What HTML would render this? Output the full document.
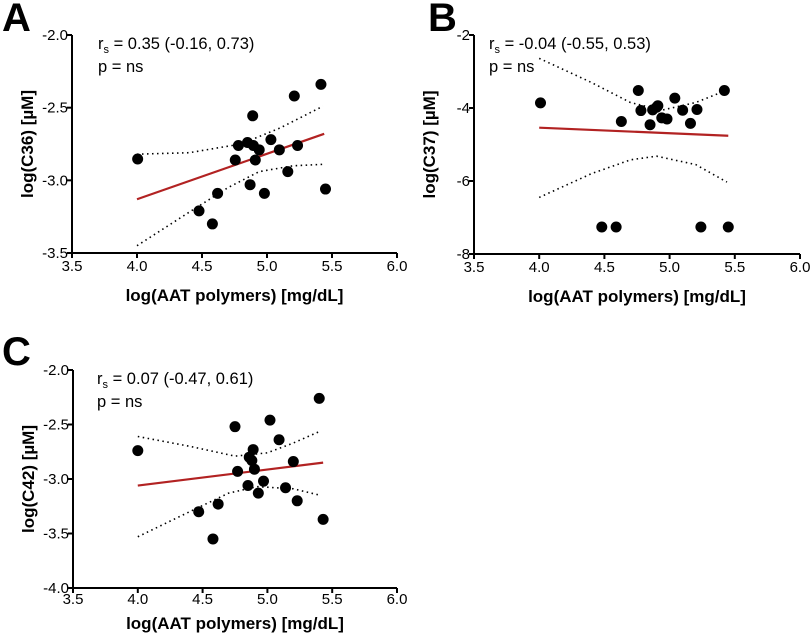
<!DOCTYPE html>
<html><head><meta charset="utf-8"><style>
html,body{margin:0;padding:0;background:#fff;}
svg{display:block;font-family:"Liberation Sans",Arial,sans-serif;}
</style></head><body>
<svg id="fig" width="810" height="633" viewBox="0 0 810 633" xmlns="http://www.w3.org/2000/svg">
<text x="2" y="31" font-size="40" font-weight="bold">A</text>
<text x="428" y="31" font-size="40" font-weight="bold">B</text>
<text x="2" y="365" font-size="40" font-weight="bold">C</text>
</svg>
<script>
const xTicks=[3.5,4.0,4.5,5.0,5.5,6.0];
const xTickLabels=["3.5","4.0","4.5","5.0","5.5","6.0"];

const aX=[4.005,4.477,4.58,4.62,4.756,4.78,4.85,4.89,4.87,4.895,4.91,4.94,4.98,5.03,5.095,5.16,5.21,5.235,5.415,5.45];
const aY=[-2.853,-3.21,-3.30,-3.09,-2.86,-2.76,-2.74,-2.556,-3.03,-2.76,-2.86,-2.79,-3.09,-2.72,-2.79,-2.94,-2.42,-2.76,-2.34,-3.06];
const aFitX=[4.0,5.44];const aFitY=[-3.13,-2.68];
const aUpX=[4.0,4.4,4.8,5.1,5.43];const aUpY=[-2.82,-2.81,-2.75,-2.64,-2.49];
const aLoX=[4.0,4.4,4.7,4.94,5.2,5.43];const aLoY=[-3.45,-3.22,-3.05,-2.94,-2.9,-2.89];
const aYTicks=[-2.0,-2.5,-3.0,-3.5];const aYTickLabels=["-2.0","-2.5","-3.0","-3.5"];

const bX=[4.01,4.48,4.59,4.63,4.76,4.78,4.85,4.87,4.9,4.91,4.94,4.98,5.04,5.1,5.16,5.21,5.24,5.42,5.45];
const bY=[-3.86,-7.26,-7.26,-4.37,-3.52,-4.07,-4.46,-4.05,-3.98,-3.94,-4.27,-4.30,-3.73,-4.06,-4.42,-4.04,-7.26,-3.52,-7.26];
const bFitX=[4.0,5.45];const bFitY=[-4.54,-4.76];
const bUpX=[4.0,4.4,4.7,4.94,5.2,5.44];const bUpY=[-2.64,-3.3,-3.85,-4.06,-3.85,-3.51];
const bLoX=[4.0,4.4,4.7,4.9,5.2,5.44];const bLoY=[-6.45,-5.8,-5.42,-5.32,-5.55,-6.03];
const bYTicks=[-2,-4,-6,-8];const bYTickLabels=["-2","-4","-6","-8"];

const cX=[4.0,4.47,4.58,4.62,4.75,4.77,4.85,4.86,4.88,4.89,4.9,4.93,4.97,5.02,5.09,5.14,5.2,5.23,5.4,5.43];
const cY=[-2.74,-3.30,-3.55,-3.23,-2.52,-2.93,-3.06,-2.80,-2.83,-2.73,-2.91,-3.13,-3.02,-2.46,-2.64,-3.08,-2.84,-3.20,-2.26,-3.37];
const cFitX=[4.0,5.43];const cFitY=[-3.06,-2.85];
const cUpX=[4.0,4.4,4.75,5.0,5.2,5.41];const cUpY=[-2.61,-2.7,-2.79,-2.76,-2.67,-2.56];
const cLoX=[4.0,4.4,4.7,4.92,5.2,5.41];const cLoY=[-3.53,-3.3,-3.13,-3.07,-3.09,-3.15];
const cYTicks=[-2.0,-2.5,-3.0,-3.5,-4.0];const cYTickLabels=["-2.0","-2.5","-3.0","-3.5","-4.0"];

const NS="http://www.w3.org/2000/svg";
const svg=document.getElementById('fig');
function mk(tag,attrs,parent){const e=document.createElementNS(NS,tag);for(const k in attrs)e.setAttribute(k,attrs[k]);(parent||svg).appendChild(e);return e;}

function panel(id,L,R,T,B,yMin,yMax,xs,ys,fx,fy,ux,uy,lx,ly,yt,ytl,ytitle,r1,ttx,tickOff,titleOff){
  const g=mk('g',{});
  
  
  const sx=v=>L+(v-3.5)/(6.0-3.5)*(R-L);
  const sy=v=>T+(yMax-v)/(yMax-yMin)*(B-T);
  const yax=mk('line',{x1:L,y1:T,x2:L,y2:B+1,stroke:'#000','stroke-width':2},g);
  
  
  const xax=mk('line',{x1:L-1,y1:B,x2:R,y2:B,stroke:'#000','stroke-width':2},g);
  
  
  xTicks.forEach((v,i)=>{
    mk('line',{x1:sx(v),y1:B,x2:sx(v),y2:B+5,stroke:'#000','stroke-width':2},g);
    const t=mk('text',{x:sx(v),y:B+tickOff,'font-size':15,'text-anchor':'middle'},g);
    t.textContent=xTickLabels[i];
    
    
  });
  yt.forEach((v,i)=>{
    mk('line',{x1:L-5,y1:sy(v),x2:L,y2:sy(v),stroke:'#000','stroke-width':2},g);
    const t=mk('text',{x:L-4,y:sy(v)+5,'font-size':15,'text-anchor':'end'},g);
    t.textContent=ytl[i];
    
    
  });
  const cy=(T+B)/2;
  const yt1=mk('text',{x:L-39,y:cy,'font-size':17,'font-weight':'bold','text-anchor':'middle',transform:`rotate(-90 ${L-39} ${cy})`},g);
  yt1.textContent=ytitle;
  
  
  const xt=mk('text',{x:(L+R)/2,y:B+titleOff,'font-size':17,'font-weight':'bold','text-anchor':'middle'},g);
  xt.textContent='log(AAT polymers) [mg/dL]';
  
  
  const a1=mk('text',{x:L+ttx,y:T+14,'font-size':16.5},g);
  a1.innerHTML='r<tspan font-size="11" dy="4">s</tspan><tspan dy="-4"> = '+r1+'</tspan>';
  
  
  const a2=mk('text',{x:L+ttx,y:T+37,'font-size':16.5},g);
  a2.textContent='p = ns';
  
  
  [[ux,uy,'ci-upper'],[lx,ly,'ci-lower']].forEach(([X,Y,n])=>{
    const p=mk('polyline',{points:X.map((v,i)=>sx(v)+','+sy(Y[i])).join(' '),fill:'none',stroke:'#000','stroke-width':1.6,'stroke-dasharray':'1.5 3.5'},g);
    
    
  });
  const fl=mk('line',{x1:sx(fx[0]),y1:sy(fy[0]),x2:sx(fx[1]),y2:sy(fy[1]),stroke:'#b22222','stroke-width':2.2},g);
  
  
  xs.forEach((v,i)=>{
    const c=mk('circle',{cx:sx(v),cy:sy(ys[i]),r:5.5,fill:'#000'},g);
    
    
  });
}
panel('a',72,397,35,253,-3.5,-2.0,aX,aY,aFitX,aFitY,aUpX,aUpY,aLoX,aLoY,aYTicks,aYTickLabels,'log(C36) [µM]','0.35 (-0.16, 0.73)',26,18,48);
panel('b',474,800,35,254,-8,-2,bX,bY,bFitX,bFitY,bUpX,bUpY,bLoX,bLoY,bYTicks,bYTickLabels,'log(C37) [µM]','-0.04 (-0.55, 0.53)',15,18,48);
panel('c',73,397,370,588,-4.0,-2.0,cX,cY,cFitX,cFitY,cUpX,cUpY,cLoX,cLoY,cYTicks,cYTickLabels,'log(C42) [µM]','0.07 (-0.47, 0.61)',24,16,41);
</script>
</body></html>
